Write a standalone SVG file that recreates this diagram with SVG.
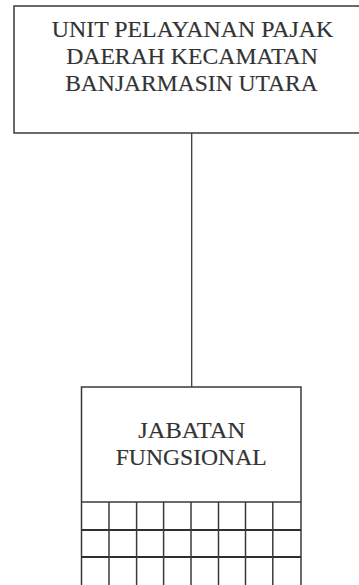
<svg xmlns="http://www.w3.org/2000/svg" width="359" height="585" viewBox="0 0 359 585">
<style>
.box{fill:#ffffff;stroke:#3a3a3a;stroke-width:1.5}
.grid{stroke:#3a3a3a;stroke-width:1.5;fill:none}
.row{stroke:#2e2e2e;stroke-width:2;fill:none}
.conn{stroke:#3a3a3a;stroke-width:1.3;fill:none}
.lbl{font-family:"Liberation Serif","DejaVu Serif",serif;font-size:23px;fill:#333333;stroke:#333333;stroke-width:0.15;text-anchor:middle}
</style>
<rect x="0" y="0" width="359" height="585" fill="#ffffff"/>
<g id="connectors">
<line class="conn" x1="191.7" y1="133" x2="191.7" y2="387"/>
</g>
<g id="node-upt">
<rect class="box" x="14" y="6" width="360" height="127"/>
<text class="lbl" x="192.5" y="36.5" textLength="281.5" lengthAdjust="spacingAndGlyphs">UNIT PELAYANAN PAJAK</text>
<text class="lbl" x="192" y="63.8" textLength="251.7" lengthAdjust="spacingAndGlyphs">DAERAH KECAMATAN</text>
<text class="lbl" x="191.5" y="91.2" textLength="252.7" lengthAdjust="spacingAndGlyphs">BANJARMASIN UTARA</text>
</g>
<g id="node-jabatan">
<rect class="box" x="81.5" y="387" width="219.5" height="210"/>
<text class="lbl" x="191.7" y="438" textLength="106.7" lengthAdjust="spacingAndGlyphs">JABATAN</text>
<text class="lbl" x="191.2" y="464.5" textLength="151" lengthAdjust="spacingAndGlyphs">FUNGSIONAL</text>
<line class="grid" x1="81.5" y1="502" x2="301" y2="502"/>
<line class="row" x1="81.5" y1="530" x2="301" y2="530"/>
<line class="row" x1="81.5" y1="557" x2="301" y2="557"/>
<line class="grid" x1="109" y1="502" x2="109" y2="590"/>
<line class="grid" x1="136.6" y1="502" x2="136.6" y2="590"/>
<line class="grid" x1="163.6" y1="502" x2="163.6" y2="590"/>
<line class="grid" x1="191" y1="502" x2="191" y2="590"/>
<line class="grid" x1="218.5" y1="502" x2="218.5" y2="590"/>
<line class="grid" x1="245.5" y1="502" x2="245.5" y2="590"/>
<line class="grid" x1="272.8" y1="502" x2="272.8" y2="590"/>
</g>
</svg>
